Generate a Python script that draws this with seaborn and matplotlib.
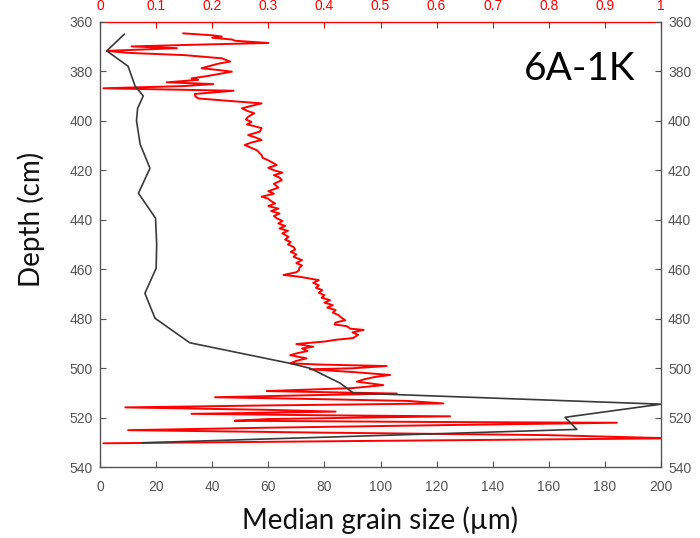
import matplotlib
matplotlib.use("Agg")
import matplotlib.pyplot as plt
import seaborn as sns
import pandas as pd

# Median grain size (bottom axis, µm)
gs_depth = [365, 371.8, 378, 386, 390, 395, 400, 409.5, 419.2, 429.3, 439.4, 450,
            459.6, 469.7, 479.8, 489.7, 498, 500, 506, 510, 514.5, 519.8, 524.7, 530.1]
gs_value = [8.7, 2.4, 10, 12.5, 15.4, 13.4, 13, 14.3, 17.8, 13.7, 19.8, 20.2,
            20, 16, 19.6, 32, 67.7, 74.9, 85.6, 90.3, 200, 165.8, 170, 15]

# Red proxy (top axis, 0-1)
red_depth = [364.7, 365.5, 366.0, 366.5, 367.2, 367.7, 368.6, 369.3, 370.0, 370.7,
             371.8, 372.6, 373.5, 374.8, 375.5, 376.1, 377.0, 378.8, 379.5, 380.2,
             381.0, 382.0, 382.9, 383.5, 384.5, 385.2, 386.0, 386.9, 387.9, 389.2,
             390.2, 391.0, 392.0, 393.0, 394.0, 395.0, 396.0, 397.0, 398.4, 399.5,
             400.5, 401.5, 402.2, 403.0, 404.4, 405.8, 407.0, 407.8, 408.8, 409.8,
             411.0, 412.0, 413.9, 415.0, 416.0, 417.9, 419.0, 420.0, 421.0, 422.0,
             423.0, 424.0, 425.5, 427.0, 428.5, 429.5, 430.7, 431.5, 432.5, 433.4,
             434.5, 435.5, 436.5, 437.5, 438.5, 439.4, 440.5, 441.5, 442.5, 443.5,
             444.5, 445.5, 446.9, 448.0, 449.0, 450.0, 451.0, 452.0, 453.0, 454.0,
             455.0, 456.3, 457.5, 458.5, 459.5, 460.3, 461.2, 462.3, 463.0, 464.4,
             465.5, 466.5, 467.5, 468.4, 469.5, 470.5, 471.5, 472.5, 473.5, 474.5,
             475.5, 476.5, 477.5, 478.5, 479.5, 480.6, 481.5, 482.3, 483.0, 484.0,
             484.5, 485.5, 486.5, 487.8, 488.5, 489.2, 490.2, 491.3, 492.0, 493.0,
             494.0, 494.7, 496.0, 497.0, 498.0, 498.5, 499.1, 500.0, 500.4, 501.5,
             502.7, 503.5, 504.5, 505.4, 506.8, 508.0, 509.2, 510.2, 511.0, 511.7,
             512.5, 513.2, 514.2, 515.0, 515.8, 516.8, 517.5, 518.4, 519.0, 519.4,
             520.0, 520.5, 521.2, 521.7, 522.0, 523.0, 524.0, 525.0, 526.0, 527.0,
             528.3, 529.3, 530.3]
red_value = [0.148, 0.20, 0.217, 0.20, 0.235, 0.241, 0.30, 0.17, 0.056, 0.137,
             0.012, 0.05, 0.15, 0.217, 0.225, 0.232, 0.21, 0.181, 0.21, 0.235,
             0.215, 0.19, 0.163, 0.175, 0.119, 0.202, 0.15, 0.006, 0.238, 0.169,
             0.17, 0.175, 0.23, 0.288, 0.27, 0.253, 0.262, 0.275, 0.264, 0.26,
             0.270, 0.262, 0.275, 0.288, 0.285, 0.264, 0.28, 0.288, 0.27, 0.258,
             0.27, 0.28, 0.288, 0.29, 0.30, 0.315, 0.30, 0.31, 0.325, 0.31,
             0.32, 0.324, 0.31, 0.318, 0.30, 0.31, 0.288, 0.30, 0.305, 0.312,
             0.30, 0.318, 0.305, 0.32, 0.31, 0.315, 0.325, 0.318, 0.33, 0.32,
             0.335, 0.325, 0.336, 0.33, 0.34, 0.335, 0.345, 0.348, 0.34, 0.35,
             0.345, 0.36, 0.35, 0.36, 0.355, 0.355, 0.35, 0.327, 0.355, 0.39,
             0.38, 0.39, 0.385, 0.396, 0.39, 0.40, 0.395, 0.41, 0.40, 0.415,
             0.405, 0.42, 0.415, 0.425, 0.43, 0.437, 0.42, 0.418, 0.44, 0.446,
             0.47, 0.45, 0.46, 0.451, 0.42, 0.40, 0.35, 0.38, 0.36, 0.37,
             0.35, 0.339, 0.368, 0.35, 0.339, 0.392, 0.511, 0.45, 0.374, 0.45,
             0.517, 0.49, 0.47, 0.458, 0.505, 0.45, 0.297, 0.529, 0.35, 0.205,
             0.40, 0.55, 0.612, 0.30, 0.045, 0.30, 0.42, 0.163, 0.40, 0.624,
             0.45, 0.30, 0.24, 0.60, 0.921, 0.60, 0.30, 0.05, 0.40, 0.80,
             1.02, 0.50, 0.006]

depth_ticks = [360, 380, 400, 420, 440, 460, 480, 500, 520, 540]
bottom_ticks = [0, 20, 40, 60, 80, 100, 120, 140, 160, 180, 200]
top_ticks = [0, 0.1, 0.2, 0.3, 0.4, 0.5, 0.6, 0.7, 0.8, 0.9, 1]
top_labels = ["0", "0.1", "0.2", "0.3", "0.4", "0.5", "0.6", "0.7", "0.8", "0.9", "1"]

sns.set_style("white")
plt.rcParams['font.family'] = ['Liberation Sans', 'DejaVu Sans']

gs_df = pd.DataFrame({"depth": gs_depth, "value": gs_value})
red_df = pd.DataFrame({"depth": red_depth, "value": red_value})

fig = plt.figure(figsize=(7, 5.38), dpi=100)
ax = fig.add_axes([0.1429, 0.1314, 0.8014, 0.8283])
ax2 = ax.twiny()

sns.lineplot(data=red_df, x="value", y="depth", sort=False, estimator=None,
             orient="y", color="#ff0000", lw=1.4, ax=ax2)
sns.lineplot(data=gs_df, x="value", y="depth", sort=False, estimator=None,
             orient="y", color="#3a3a3a", lw=1.2, ax=ax)

ax.set_zorder(ax2.get_zorder() + 1)
ax.patch.set_visible(False)

grey = "#555555"
ax.set_xlim(0, 200)
ax.set_ylim(540, 360)
ax2.set_xlim(0, 1)
ax2.set_ylim(540, 360)

ax.set_xticks(bottom_ticks)
ax.set_yticks(depth_ticks)
ax2.set_xticks(top_ticks)
ax2.set_xticklabels(top_labels)

ax.tick_params(axis="x", direction="in", length=4, colors=grey, labelsize=10,
               pad=9, top=False, bottom=True)
ax.tick_params(axis="y", direction="in", length=4, colors=grey, labelsize=10,
               pad=5, left=True, right=True, labelleft=True, labelright=True)
ax2.tick_params(axis="x", direction="in", length=4, colors="#ff0000",
                labelsize=10, pad=6, top=True, bottom=False)

for s in ["left", "right", "bottom"]:
    ax.spines[s].set_color(grey)
    ax.spines[s].set_linewidth(1.0)
ax.spines["top"].set_visible(False)
for s in ["left", "right", "bottom"]:
    ax2.spines[s].set_visible(False)
ax2.spines["top"].set_color("#ff0000")
ax2.spines["top"].set_linewidth(1.0)

ax2.set_xlabel("")
ax2.set_ylabel("")
ax.set_xlabel("")
ax.set_ylabel("")
fig.text(0.543, 0.034, "Median grain size (\u00b5m)", fontsize=20,
         family=["Lato", "DejaVu Sans"], color="#111111", ha="center", va="center")
fig.text(0.045, 0.593, "Depth (cm)", rotation=90, fontsize=20,
         family=["Lato", "DejaVu Sans"], color="#111111", ha="center", va="center")

ax.text(0.855, 0.893, "6A-1K", transform=ax.transAxes, fontsize=28,
        family=["Lato", "DejaVu Sans"], color="#000000", ha="center", va="center")

fig.savefig("out.png", dpi=100)
